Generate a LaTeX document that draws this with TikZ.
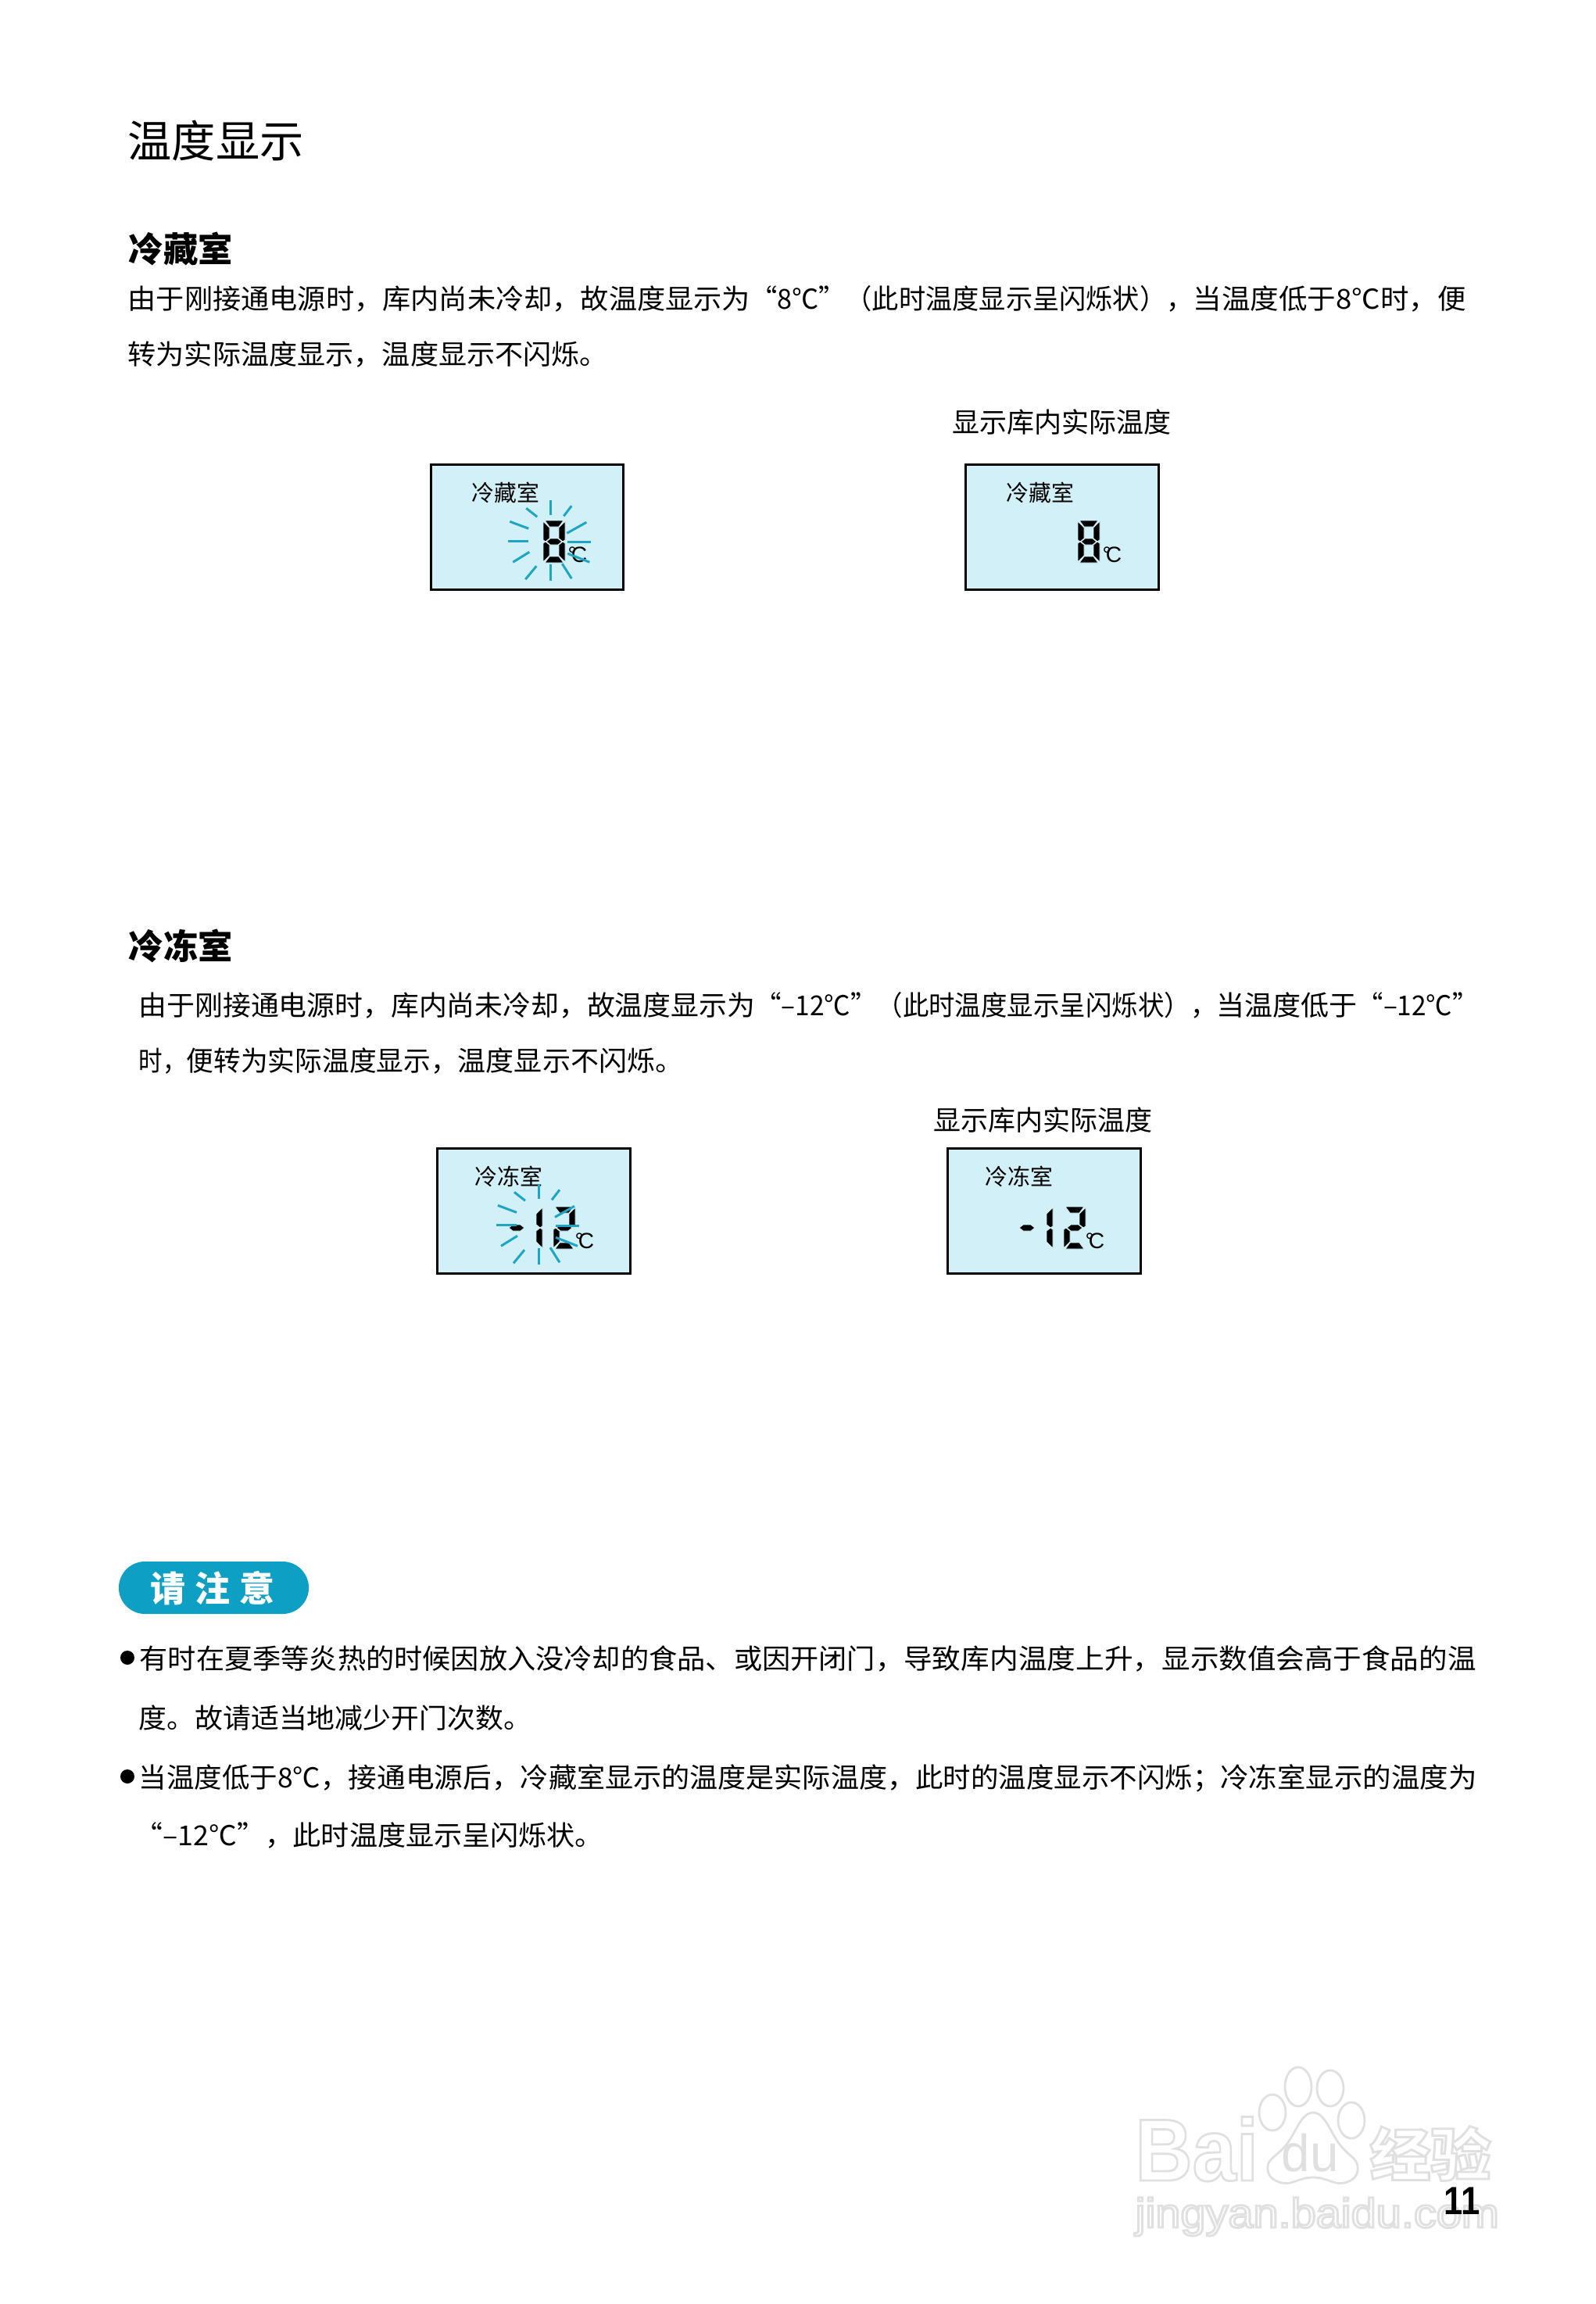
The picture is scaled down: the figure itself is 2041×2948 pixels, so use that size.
\documentclass[tikz,border=0pt]{standalone}
\usepackage{fontspec}
\setmainfont{Liberation Sans}
\newfontfamily\cjk{Noto Sans CJK SC}
\definecolor{lcdfill}{HTML}{D2F0F7}
\definecolor{raycolor}{HTML}{1FA5C4}
\definecolor{pillcolor}{HTML}{0E9FC4}
\definecolor{markgray}{HTML}{E0E0E0}
\newcommand{\fitline}[2]{\resizebox{#1}{\height}{#2}}
\newcommand{\hollowtext}[1]{\special{pdf:code 1 Tr 0.8 w}#1\special{pdf:code 0 Tr}}
\newcommand{\lcddigit}[3]{%
  \begin{scope}[shift={(#1,#2)},xslant=.09]
    \foreach \s in {#3} {\pic {seg\s};}
  \end{scope}}
\tikzset{
  sega/.pic={\fill[lcdseg] (2,0) -- (26,0) -- (20,8) -- (8,8) -- cycle;},
  segb/.pic={\fill[lcdseg] (28,1) -- (28,25) -- (25,27) -- (20,23) -- (20,9) -- cycle;},
  segc/.pic={\fill[lcdseg] (28,29) -- (28,53) -- (20,45) -- (20,31) -- (25,27) -- cycle;},
  segd/.pic={\fill[lcdseg] (2,54) -- (26,54) -- (20,46) -- (8,46) -- cycle;},
  sege/.pic={\fill[lcdseg] (0,29) -- (0,53) -- (8,45) -- (8,31) -- (3,27) -- cycle;},
  segf/.pic={\fill[lcdseg] (0,1) -- (0,25) -- (3,27) -- (8,23) -- (8,9) -- cycle;},
  segg/.pic={\fill[lcdseg] (4,27) -- (9,23) -- (19,23) -- (24,27) -- (19,31) -- (9,31) -- cycle;},
  flashrays/.pic={
    \foreach \a/\b/\c/\d in {0/-52/0/-33,27/-45/17/-32,46/-24/21/-10,52/1/22/1,50/27/22/16,27/48/15/29,
      0/51/0/30,-18/32/-32/49,-27/14/-48/27,-28/0/-54/0,-28/-16/-52/-25,-17/-31/-31/-42}
      \draw[raystroke] (\a,\b) -- (\c,\d);
  },
}
\begin{document}
\begin{tikzpicture}[
  x=.01cm, y=-.01cm,
  bodytext/.style={anchor=base west,inner sep=0pt,font=\cjk\fontsize{10pt}{12pt}\selectfont},
  headtext/.style={anchor=base west,inner sep=0pt,font=\cjk\bfseries\fontsize{12.6pt}{14pt}\selectfont},
  lcdbox/.style={draw=black,fill=lcdfill,line width=.03cm,minimum width=2.46cm,minimum height=1.6cm,inner sep=0pt},
  lcdlabel/.style={anchor=base west,inner sep=0pt,font=\cjk\fontsize{8.2pt}{10pt}\selectfont},
  lcdunit/.style={anchor=base west,inner sep=0pt,font=\fontsize{8pt}{10pt}\selectfont},
  lcdseg/.style={draw=lcdfill,line width=.25pt},
  raystroke/.style={draw=raycolor,line width=.85pt},
  marktext/.style={anchor=base west,inner sep=0pt,text=markgray},
  toe/.style={draw=markgray,fill=white,line width=.8pt},
]
  \useasboundingbox (0,0) rectangle (2041,2948);
  \node[anchor=base west,inner sep=0pt,font=\cjk\fontsize{16pt}{18pt}\selectfont] (pagetitle) at (163,201) {温度显示};

  % fridge part
  \node[headtext] (chillhead) at (164,335) {冷藏室};
  \node[bodytext] (chillline1) at (163,395) {\fitline{7.96cm}{由于刚接通电源时，库内尚未冷却，故温度显示为}\fitline{5.66cm}{“8℃”（此时温度显示呈闪烁状），}\fitline{3.49cm}{当温度低于8℃时，便}};
  \node[bodytext] (chillline2) at (163,466) {\fitline{6.14cm}{转为实际温度显示，温度显示不闪烁。}};
  \node[bodytext] (chillnote) at (1218,553) {\fitline{2.80cm}{显示库内实际温度}};

  \node[lcdbox] (chillboxa) at (674.5,674.5) {};
  \node[lcdbox] (chillboxb) at (1359,674.5) {};
  \node[lcdlabel] (chilllabela) at (603,641) {冷藏室};
  \node[lcdlabel] (chilllabelb) at (1287,641) {冷藏室};
  \lcddigit{695}{666}{a,b,c,d,e,f,g}
  \lcddigit{1379}{666}{a,b,c,d,e,f,g}
  \node[lcdunit] (chillunita) at (726,719) {°\kern-.25em C};
  \node[lcdunit] (chillunitb) at (1410,719) {°\kern-.25em C};
  \pic at (704.3,692.3) {flashrays};

  % freezer part
  \node[headtext] (coldhead) at (164,1227) {冷冻室};
  \node[bodytext] (coldline1) at (177,1299) {\fitline{7.88cm}{由于刚接通电源时，库内尚未冷却，故温度显示为}\fitline{5.90cm}{“–12℃”（此时温度显示呈闪烁状），}\fitline{1.80cm}{当温度低于}\fitline{1.55cm}{“–12℃”}};
  \node[bodytext] (coldline2) at (177,1370) {\fitline{.61cm}{时，}\fitline{3.47cm}{便转为实际温度显示，}\fitline{2.88cm}{温度显示不闪烁。}};
  \node[bodytext] (coldnote) at (1194,1446) {\fitline{2.80cm}{显示库内实际温度}};

  \node[lcdbox] (coldboxa) at (683,1549.5) {};
  \node[lcdbox] (coldboxb) at (1336,1549.5) {};
  \node[lcdlabel] (coldlabela) at (607,1516) {冷冻室};
  \node[lcdlabel] (coldlabelb) at (1260,1516) {冷冻室};
  \lcddigit{647}{1544}{g}
  \lcddigit{666}{1544}{b,c}
  \lcddigit{708}{1544}{a,b,g,e,d}
  \lcddigit{1300}{1544}{g}
  \lcddigit{1319}{1544}{b,c}
  \lcddigit{1361}{1544}{a,b,g,e,d}
  \node[lcdunit] (coldunita) at (735,1597) {°\kern-.25em C};
  \node[lcdunit] (coldunitb) at (1388,1597) {°\kern-.25em C};
  \pic at (689,1567.3) {flashrays};

  % notes part
  \node[fill=pillcolor,rounded corners=.335cm,minimum width=2.43cm,minimum height=.67cm,inner sep=0pt] (notepill) at (273.5,2031.5) {};
  \node[inner sep=0pt,text=white,font=\cjk\bfseries\fontsize{12.8pt}{14pt}\selectfont] (notetitle) at (272,2032) {请\hspace{3.4pt}注\hspace{3.4pt}意};
  \node[circle,fill=black,inner sep=0pt,minimum size=.18cm] (bulleta) at (163,2121) {};
  \node[circle,fill=black,inner sep=0pt,minimum size=.18cm] (bulletb) at (163,2273) {};
  \node[bodytext] (noteline1) at (178,2135) {\fitline{9.77cm}{有时在夏季等炎热的时候因放入没冷却的食品、或因开闭门，}\fitline{3.30cm}{导致库内温度上升，}\fitline{4.02cm}{显示数值会高于食品的温}};
  \node[bodytext] (noteline2) at (177,2211) {\fitline{5.02cm}{度。故请适当地减少开门次数。}};
  \node[bodytext] (noteline3) at (177,2287) {\fitline{2.68cm}{当温度低于8℃，}\fitline{2.20cm}{接通电源后，}\fitline{5.05cm}{冷藏室显示的温度是实际温度，}\fitline{3.90cm}{此时的温度显示不闪烁；}\fitline{3.28cm}{冷冻室显示的温度为}};
  \node[bodytext] (noteline4) at (172,2361) {\fitline{2.02cm}{“–12℃”，}\fitline{3.97cm}{此时温度显示呈闪烁状。}};

  % watermark
  \node[marktext,font=\bfseries\fontsize{32pt}{36pt}\selectfont] (markbai) at (1452,2790) {\fitline{1.57cm}{\hollowtext{Bai}}};
  \draw[toe] plot[smooth cycle,tension=.8] coordinates {(1680,2703) (1715,2745) (1737,2772) (1720,2793) (1680,2786) (1640,2793) (1622,2772) (1645,2745)};
  \draw[toe] (1628,2703) ellipse (17 and 23);
  \draw[toe] (1661,2670) ellipse (17 and 25);
  \draw[toe] (1702,2672) ellipse (17 and 23);
  \draw[toe] (1729,2713) ellipse (17 and 23);
  \node[marktext,font=\fontsize{19pt}{22pt}\selectfont] (markpaw) at (1639,2778) {\fitline{.73cm}{du}};
  \node[marktext,font=\cjk\bfseries\fontsize{20.8pt}{24pt}\selectfont] (markcn) at (1752,2784) {\fitline{1.55cm}{\hollowtext{经验}}};
  \node[marktext,font=\fontsize{15pt}{18pt}\selectfont] (markurl) at (1452,2850) {\fitline{4.65cm}{\hollowtext{jingyan.baidu.com}}};

  \node[anchor=base east,inner sep=0pt,font=\bfseries\fontsize{14.3pt}{16pt}\selectfont] (pagenumber) at (1894,2833) {\fitline{.46cm}{11}};
\end{tikzpicture}
\end{document}
